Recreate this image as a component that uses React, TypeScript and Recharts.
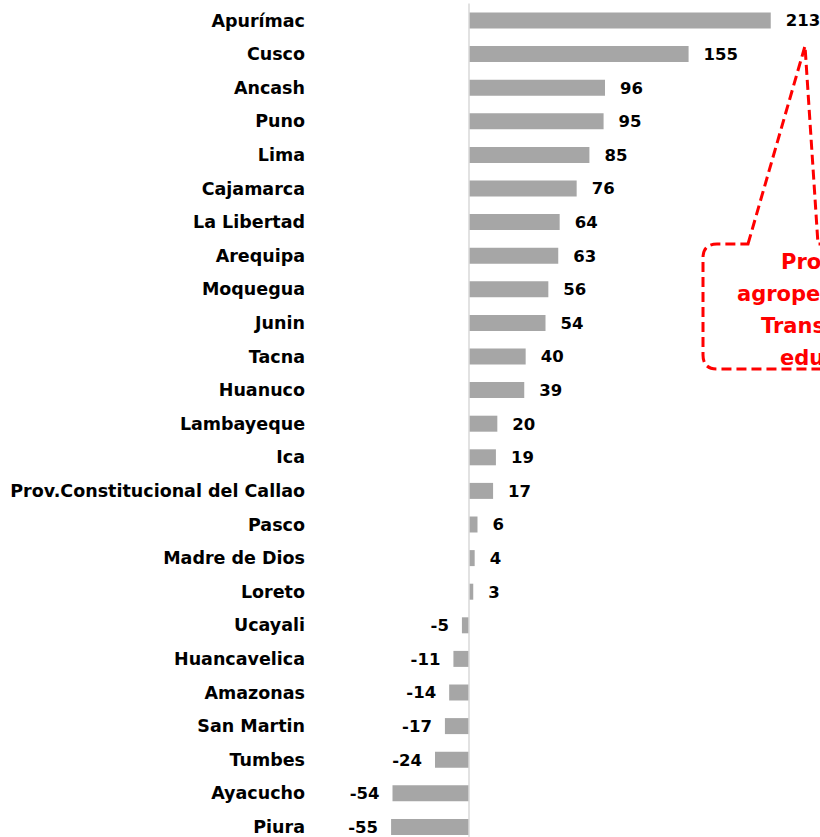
import React from "react";
import { BarChart, Bar, XAxis, YAxis, ReferenceLine, LabelList } from "recharts";

const regions = [
  "Apurímac", "Cusco", "Ancash", "Puno", "Lima", "Cajamarca", "La Libertad",
  "Arequipa", "Moquegua", "Junin", "Tacna", "Huanuco", "Lambayeque", "Ica",
  "Prov.Constitucional del Callao", "Pasco", "Madre de Dios", "Loreto",
  "Ucayali", "Huancavelica", "Amazonas", "San Martin", "Tumbes", "Ayacucho", "Piura",
];
const values = [
  213, 155, 96, 95, 85, 76, 64, 63, 56, 54, 40, 39, 20, 19, 17, 6, 4, 3,
  -5, -11, -14, -17, -24, -54, -55,
];
const calloutLines = ["Provisión de", "agropecuario,", "Transporte y", "educación"];

const data = regions.map((name, i) => ({ name, value: values[i] }));

const FONT = "'DejaVu Sans', sans-serif";

function ValueLabel(props: any) {
  const { x, y, width, height, value } = props;
  const left = Math.min(x, x + width);
  const right = Math.max(x, x + width);
  const pos = value >= 0;
  return (
    <text
      x={pos ? right + 15 : left - 13}
      y={y + height / 2}
      dy="0.36em"
      textAnchor={pos ? "start" : "end"}
      fontFamily={FONT}
      fontWeight="bold"
      fontSize={16.5}
      fill="#000"
    >
      {value}
    </text>
  );
}

function Callout() {
  const d =
    "M 748 244 L 805 46 L 818 244 L 840 244 L 840 369 L 717 369 " +
    "Q 703 369 703 355 L 703 258 Q 703 244 717 244 Z";
  const starts = [781, 737, 761, 780];
  return (
    <svg
      width={820}
      height={837}
      style={{ position: "absolute", left: 0, top: 0, pointerEvents: "none" }}
    >
      <path d={d} fill="#fff" stroke="#ff0000" strokeWidth={3} strokeDasharray="10 5" />
      {calloutLines.map((t, i) => (
        <text
          key={t}
          x={starts[i]}
          y={261 + i * 32}
          dy="0.36em"
          fontFamily={FONT}
          fontWeight="bold"
          fontSize={21}
          fill="#ff0000"
        >
          {t}
        </text>
      ))}
    </svg>
  );
}

export default function App() {
  return (
    <div style={{ position: "absolute", left: 0, top: 0, width: 820, height: 837, overflow: "hidden", background: "#fff" }}>
      <BarChart
        width={820}
        height={850}
        data={data}
        layout="vertical"
        margin={{ top: 3.5, right: 11, bottom: 6.5, left: 0 }}
        barSize={16}
      >
        <XAxis type="number" domain={[-60, 240]} hide />
        <YAxis
          type="category"
          dataKey="name"
          width={384}
          tickLine={false}
          axisLine={false}
          tickSize={0}
          tickMargin={79}
          interval={0}
          tick={{ fontFamily: FONT, fontWeight: "bold", fontSize: 17.5, fill: "#000" }}
        />
        <ReferenceLine x={0} stroke="#d9d9d9" strokeWidth={1.5} />
        <Bar dataKey="value" fill="#a6a6a6" isAnimationActive={false}>
          <LabelList dataKey="value" content={<ValueLabel />} />
        </Bar>
      </BarChart>
      <Callout />
    </div>
  );
}
